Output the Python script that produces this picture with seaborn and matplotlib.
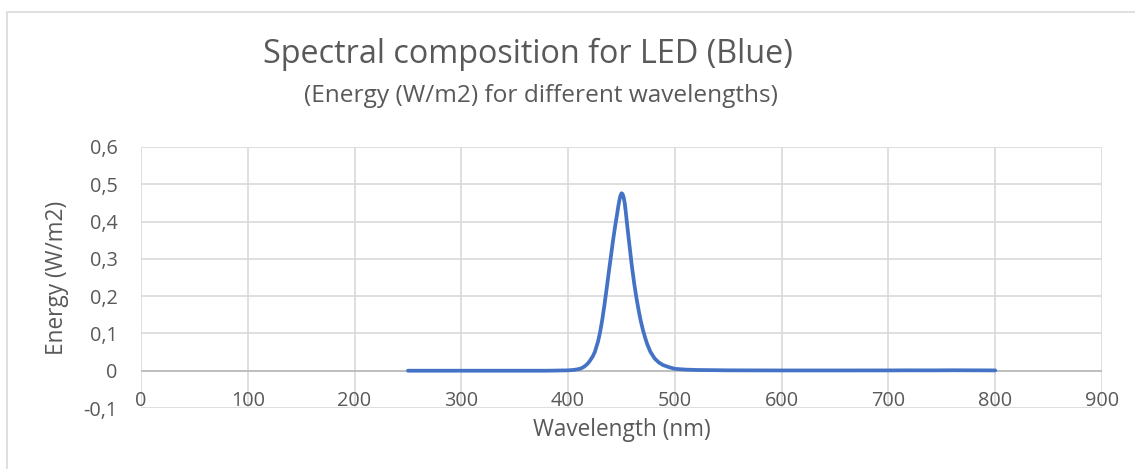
import matplotlib
matplotlib.use("Agg")
import matplotlib.pyplot as plt
import seaborn as sns
import pandas as pd
from matplotlib.ticker import FuncFormatter, MultipleLocator
from matplotlib.patches import Rectangle

# ---- data ----
wavelength_nm = [250, 300, 350, 380, 400, 405, 411, 414, 416, 418, 420, 423, 425, 428,
                 430, 432, 434, 436, 438, 440, 442, 444, 446, 447, 448, 449, 450, 451,
                 452, 453, 454, 455, 456, 457, 458, 459, 460, 462, 464, 466, 468, 470,
                 472, 474, 477, 481, 485, 489, 495, 500, 510, 520, 550, 600, 650, 700,
                 720, 740, 760, 780, 800]
energy_wm2 = [0.0, 0.0, 0.0, 0.0, 0.001, 0.002, 0.005, 0.009, 0.013, 0.018, 0.025, 0.038,
              0.050, 0.078, 0.104, 0.137, 0.176, 0.218, 0.262, 0.305, 0.348, 0.387, 0.422,
              0.441, 0.457, 0.469, 0.476, 0.474, 0.465, 0.450, 0.426, 0.399, 0.373, 0.348,
              0.323, 0.298, 0.274, 0.232, 0.195, 0.163, 0.134, 0.110, 0.090, 0.072, 0.051,
              0.033, 0.022, 0.015, 0.009, 0.005, 0.003, 0.002, 0.001, 0.0007, 0.0007,
              0.0008, 0.001, 0.0009, 0.0012, 0.001, 0.0008]

title = "Spectral composition for LED (Blue)"
subtitle = "(Energy (W/m2) for different wavelengths)"
x_label = "Wavelength (nm)"
y_label = "Energy (W/m2)"

df = pd.DataFrame({"wavelength": wavelength_nm, "energy": energy_wm2})

sns.set_theme(style="white")
plt.rcParams["font.family"] = ["Open Sans", "DejaVu Sans"]
text_color = "#595959"

fig = plt.figure(figsize=(11.35, 4.69), dpi=100)
W, H = 1135, 469
left, right, top, bottom = 141, 1102, 147, 408
ax = fig.add_axes([left / W, 1 - bottom / H, (right - left) / W, (bottom - top) / H])

# outer chart border
fig.patches.append(Rectangle((7 / W, -0.1), 1.2, 1 - 12 / H + 0.1, transform=fig.transFigure,
                             fill=False, edgecolor="#D9D9D9", linewidth=1.2))

sns.lineplot(data=df, x="wavelength", y="energy", ax=ax, color="#4472C4",
             linewidth=2.7, zorder=3)

ax.set_xlim(0, 900)
ax.set_ylim(-0.1, 0.6)
ax.xaxis.set_major_locator(MultipleLocator(100))
ax.yaxis.set_major_locator(MultipleLocator(0.1))
ax.grid(True, color="#D9D9D9", linewidth=1.2)
ax.axhline(0, color="#BFBFBF", linewidth=1.4, zorder=2)
for s in ax.spines.values():
    s.set_visible(False)


def yfmt(v, p):
    v = round(v, 1)
    if v == 0:
        return "0"
    return f"{v:.1f}".replace(".", ",")


ax.yaxis.set_major_formatter(FuncFormatter(yfmt))
ax.xaxis.set_major_formatter(FuncFormatter(lambda v, p: f"{int(round(v))}"))
ax.tick_params(axis="both", length=0, labelsize=14.3, labelcolor=text_color)
ax.tick_params(axis="y", pad=17)
ax.tick_params(axis="x", pad=-12)

ax.set_xlabel(x_label, fontsize=16.3, color=text_color, labelpad=5)
ax.set_ylabel(y_label, fontsize=16.3, color=text_color, labelpad=10)

fig.text(528 / W, 1 - 54 / H, title, ha="center", va="center", fontsize=23.3, color=text_color)
fig.text(541 / W, 1 - 96 / H, subtitle, ha="center", va="center", fontsize=17.6, color=text_color)

fig.savefig("out.png", dpi=100, facecolor="white")
